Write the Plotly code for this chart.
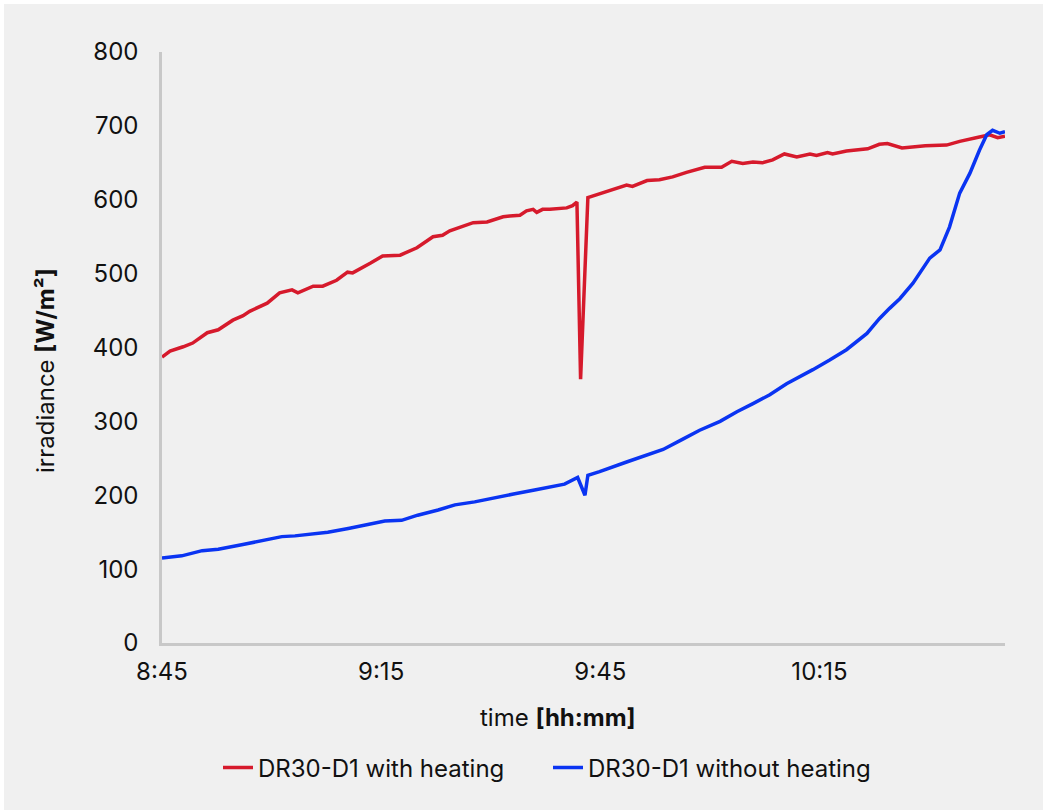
import plotly.graph_objects as go

# Elapsed minutes after 8:45 and irradiance [W/m²]
red_min = [0, 1.1, 2.9, 4.2, 6.2, 7.7, 9.7, 11.1, 12.0, 13.4, 14.4, 16.1, 17.8, 18.6,
           20.7, 22.0, 23.9, 25.4, 26.1, 28.5, 30.2, 32.6, 34.9, 37.1, 38.4, 39.4,
           41.0, 42.6, 44.5, 46.7, 47.6, 49.0, 49.9, 50.8, 51.3, 52.1, 53.1, 55.4,
           56.2, 56.8, 57.3, 58.3, 58.6, 61.3, 63.6, 64.4, 66.4, 68.1, 69.9, 71.8,
           74.3, 76.6, 78.0, 79.5, 80.9, 82.2, 83.6, 85.2, 86.9, 88.7, 89.6, 91.1,
           91.8, 93.7, 95.1, 96.6, 98.2, 99.3, 101.3, 102.3, 104.5, 107.4, 109.2,
           111.9, 113.3, 114.4, 115.4]
red_val = [387, 395, 401, 406, 420, 424, 437, 443, 449, 455, 460, 474, 478, 474,
           483, 483, 491, 502, 501, 514, 524, 525, 535, 550, 552, 558,
           563, 569, 570, 577, 578, 579, 585, 587, 583, 587, 587, 589,
           592, 597, 357, 603, 604, 612, 620, 618, 626, 627, 631, 637,
           644, 644, 652, 649, 651, 650, 654, 662, 658, 662, 660, 664,
           662, 666, 668, 669, 675, 676, 670, 671, 673, 674, 679,
           685, 688, 684, 686]

blue_min = [0, 2.7, 5.5, 7.7, 10.9, 13.7, 16.4, 18.2, 20.5, 22.7, 25.5, 28.2, 30.5,
            32.8, 35.0, 37.8, 40.1, 42.8, 45.6, 48.3, 51.0, 52.8, 55.1, 56.9, 57.9,
            58.3, 59.9, 63.6, 66.8, 68.6, 71.3, 73.6, 76.4, 78.7, 80.9, 83.2, 85.5,
            87.3, 89.1, 91.4, 93.7, 96.5, 98.2, 99.6, 101.0, 102.8, 105.1, 106.5,
            107.8, 109.2, 110.6, 111.9, 112.9, 113.7, 114.7, 115.4]
blue_val = [115, 118, 125, 127, 133, 138, 144, 145, 148, 150, 155, 160, 165,
            166, 173, 180, 187, 191, 196, 202, 207, 211, 215, 224, 200,
            227, 232, 245, 256, 262, 276, 288, 300, 313, 324, 336, 351,
            360, 370, 383, 397, 419, 439, 453, 466, 487, 521, 532,
            563, 609, 636, 667, 688, 694, 690, 692]

x_tick_labels = ["8:45", "9:15", "9:45", "10:15"]
y_ticks = [0, 100, 200, 300, 400, 500, 600, 700, 800]
series_names = ["DR30-D1 with heating", "DR30-D1 without heating"]


def to_elapsed(label, start="8:45"):
    h, m = map(int, label.split(":"))
    h0, m0 = map(int, start.split(":"))
    return (h * 60 + m) - (h0 * 60 + m0)


x_tick_vals = [to_elapsed(t) for t in x_tick_labels]

W, H = 1043, 810
L, R, T, B = 162, 38, 52, 167
pw, ph = W - L - R, H - T - B


def px(x):
    return (x - L) / pw


def py(y):
    return (H - B - y) / ph


FONT = "Inter, 'Noto Sans', sans-serif"
FS = 24

fig = go.Figure()
fig.add_trace(go.Scatter(x=red_min, y=red_val, mode="lines", name=series_names[0],
                         line=dict(color="#d61a2c", width=3.5)))
fig.add_trace(go.Scatter(x=blue_min, y=blue_val, mode="lines", name=series_names[1],
                         line=dict(color="#0a34f2", width=3.5)))

fig.update_layout(
    width=W, height=H,
    margin=dict(l=L, r=R, t=T, b=B, autoexpand=False),
    paper_bgcolor="#f0f0f0", plot_bgcolor="#f0f0f0",
    font=dict(family=FONT, size=FS, color="#111111"),
    showlegend=True,
    legend=dict(orientation="h", x=px(548), xanchor="center", y=py(768), yanchor="middle",
                font=dict(size=FS), bgcolor="rgba(0,0,0,0)", itemwidth=30,
                entrywidth=285),
    xaxis=dict(range=[0, max(red_min)], tickvals=x_tick_vals, ticktext=x_tick_labels,
               showgrid=False, zeroline=False, showline=True, linecolor="#c8c8c8",
               linewidth=2.5, ticks="", ticklabelstandoff=5,
               tickfont=dict(size=FS, color="#111111")),
    yaxis=dict(range=[0, 800], tickvals=y_ticks, showgrid=False, zeroline=False,
               showline=True, linecolor="#c8c8c8", linewidth=2.5, ticks="",
               ticklabelstandoff=16, tickfont=dict(size=FS, color="#111111")),
    annotations=[
        dict(text="irradiance <b>[W/m²]</b>", xref="paper", yref="paper",
             x=px(45), y=py(371), textangle=-90, showarrow=False,
             xanchor="center", yanchor="middle", font=dict(size=FS)),
        dict(text="time <b>[hh:mm]</b>", xref="paper", yref="paper",
             x=px(558), y=py(717), showarrow=False,
             xanchor="center", yanchor="middle", font=dict(size=FS)),
    ],
    shapes=[
        dict(type="rect", xref="paper", yref="paper", x0=px(0), x1=px(W), y0=py(0), y1=py(4),
             fillcolor="white", line=dict(width=0), layer="below"),
        dict(type="rect", xref="paper", yref="paper", x0=px(0), x1=px(4), y0=py(H), y1=py(0),
             fillcolor="white", line=dict(width=0), layer="below"),
    ],
)

fig.write_html("out.html", config={"displayModeBar": False},
               post_script="document.body.style.margin='0px';")
